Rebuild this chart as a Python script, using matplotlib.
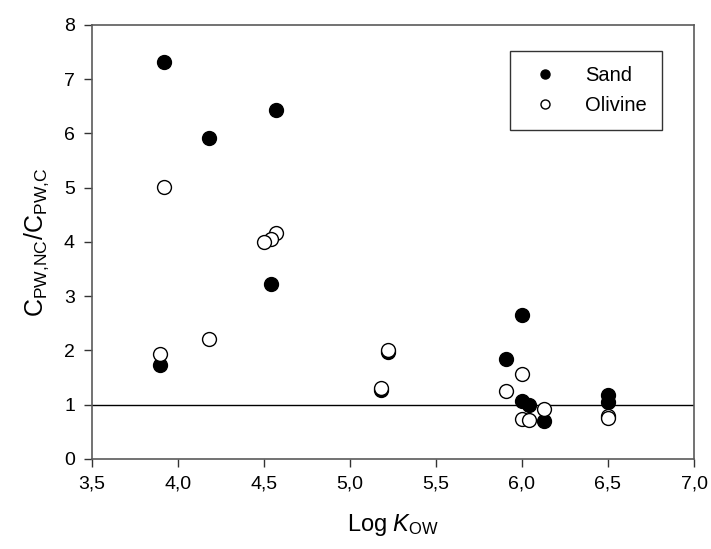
import matplotlib
matplotlib.use("Agg")
import matplotlib.pyplot as plt
from matplotlib.ticker import FuncFormatter

plt.rcParams["font.family"] = ["Liberation Sans", "DejaVu Sans"]
plt.rcParams["mathtext.fontset"] = "custom"
plt.rcParams["mathtext.rm"] = "Liberation Sans"
plt.rcParams["mathtext.it"] = "Liberation Sans:italic"

# Sand (filled) and olivine (open) points
sand_x = [3.92, 4.57, 4.18, 4.54, 3.90, 5.18, 5.22, 6.00, 5.91, 6.00, 6.04, 6.13, 6.50, 6.50]
sand_y = [7.32, 6.44, 5.92, 3.22, 1.73, 1.28, 1.97, 2.65, 1.85, 1.07, 0.99, 0.70, 1.18, 1.05]

olivine_x = [3.92, 4.57, 4.54, 4.50, 4.18, 3.90, 5.18, 5.22, 6.00, 5.91, 6.13, 6.00, 6.04, 6.50, 6.50]
olivine_y = [5.01, 4.17, 4.05, 4.00, 2.21, 1.93, 1.31, 2.01, 1.56, 1.26, 0.92, 0.73, 0.72, 0.79, 0.75]

x_ticks = [3.5, 4.0, 4.5, 5.0, 5.5, 6.0, 6.5, 7.0]
y_ticks = [0, 1, 2, 3, 4, 5, 6, 7, 8]

fig = plt.figure(figsize=(7.11, 5.49), dpi=100)
ax = fig.add_axes([0.1288, 0.164, 0.8473, 0.7905])

ax.axhline(1.0, color="black", linewidth=1.0, zorder=1)

ax.plot(sand_x, sand_y, "o", color="black", markersize=10,
        markeredgewidth=1.0, label="Sand", zorder=2)
ax.plot(olivine_x, olivine_y, "o", markerfacecolor="white",
        markeredgecolor="black", markersize=10, markeredgewidth=1.0,
        label="Olivine", zorder=3)

ax.set_xlim(3.5, 7.0)
ax.set_ylim(0, 8)
ax.set_xticks(x_ticks)
ax.set_yticks(y_ticks)
ax.xaxis.set_major_formatter(FuncFormatter(lambda v, p: f"{v:.1f}".replace(".", ",")))

for s in ax.spines.values():
    s.set_color("#5a5a5a")
    s.set_linewidth(1.2)

ax.tick_params(direction="out", length=6, width=1, color="#333333",
               labelsize=14, pad=6)

ax.set_xlabel(r"Log $\mathit{K}_{\mathrm{OW}}$", fontsize=17, labelpad=14)
ax.set_ylabel(r"C$_{\mathrm{PW{,}NC}}$/C$_{\mathrm{PW{,}C}}$", fontsize=18, labelpad=9)

leg = ax.legend(loc="upper right", bbox_to_anchor=(0.957, 0.955),
                fontsize=14.5, markerscale=0.65, frameon=True, fancybox=False,
                borderpad=0.75, labelspacing=0.55, handletextpad=1.0,
                borderaxespad=0.3)
leg.get_frame().set_edgecolor("black")
leg.get_frame().set_linewidth(1.0)

fig.savefig("out.png", dpi=100)
